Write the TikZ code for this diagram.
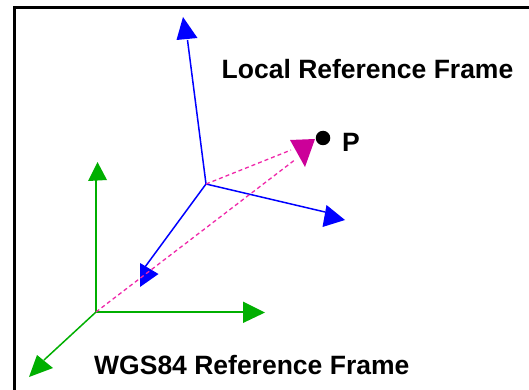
\documentclass[tikz,border=0pt]{standalone}
\usepackage{fontspec}
\setmainfont{Liberation Sans}
\begin{document}
\begin{tikzpicture}[x=1pt,y=-1pt,
  blueaxis/.style={draw={rgb,255:red,0;green,0;blue,255},line width=1.5pt},
  bluehead/.style={fill={rgb,255:red,0;green,0;blue,255}},
  greenaxis/.style={draw={rgb,255:red,0;green,175;blue,0},line width=1.5pt},
  greenhead/.style={fill={rgb,255:red,0;green,175;blue,0}},
  vecline/.style={draw={rgb,255:red,240;green,40;blue,170},line width=1.3pt,dash pattern=on 4pt off 3pt},
  vechead/.style={fill={rgb,255:red,204;green,0;blue,153}},
  caption/.style={font=\fontsize{26.5}{30}\selectfont\bfseries,inner sep=0pt,anchor=base west}]
  \useasboundingbox (0,0) rectangle (529,390);
  \fill[white] (0,0) rectangle (529,390);
  % frame
  \draw[line width=3pt] (14.7,392) -- (14.7,8) -- (531,8);

  % WGS84 frame
  \coordinate (G) at (96,312);
  \coordinate (Gup) at (96,180);
  \coordinate (Gright) at (244,312);
  \coordinate (Gdiag) at (44,360);
  \draw[greenaxis] (G) -- (Gup);
  \draw[greenaxis] (G) -- (Gright);
  \draw[greenaxis] (G) -- (Gdiag);
  \fill[greenhead] (97.5,162) -- (88,181) -- (107,180) -- cycle;
  \fill[greenhead] (243,301.5) -- (243,323) -- (265,312.5) -- cycle;
  \fill[greenhead] (37,355) -- (53,368) -- (29,377) -- cycle;

  % local frame
  \coordinate (L) at (206,184);
  \coordinate (Lup) at (187.5,40);
  \coordinate (Lright) at (325,212);
  \coordinate (Ldiag) at (145,267);
  \draw[blueaxis] (L) -- (Lup);
  \draw[blueaxis] (L) -- (Lright);
  \draw[blueaxis] (L) -- (Ldiag);
  \fill[bluehead] (183,17) -- (176.5,40) -- (197.5,38) -- cycle;
  \fill[bluehead] (326.5,205) -- (322.5,227) -- (345,220) -- cycle;
  \fill[bluehead] (140,263) -- (140,287) -- (158.5,274) -- cycle;

  % position vectors to P
  \coordinate (Pa) at (291,150);
  \coordinate (Pb) at (296,159);
  \draw[vecline] (L) -- (Pa);
  \draw[vecline] (G) -- (Pb);
  \fill[vechead] (290,140) -- (315,139) -- (305,167) -- cycle;
  \node[circle,fill=black,inner sep=0pt,minimum size=14.5pt] (P) at (323,138) {};

  % labels
  \node[caption] (lblLocal) at (221.5,78.5) {Local Reference Frame};
  \node[caption] (lblWGS) at (94,374) {WGS84 Reference Frame};
  \node[caption] (lblP) at (342,151) {P};
\end{tikzpicture}
\end{document}
